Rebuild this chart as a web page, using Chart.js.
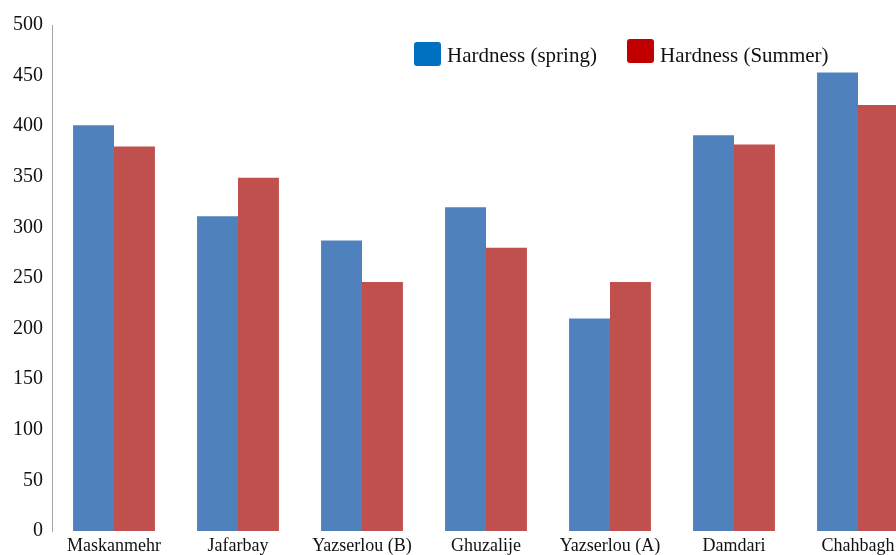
<!DOCTYPE html>
<html>
<head>
<meta charset="utf-8">
<script src="https://cdn.jsdelivr.net/npm/chart.js@4.4.1/dist/chart.umd.min.js"></script>
<style>
  html, body { margin: 0; padding: 0; background: #fff; overflow: hidden; }
  #wrap { position: relative; width: 930px; height: 555px; }
</style>
</head>
<body>
<div id="wrap"><canvas id="c" width="930" height="555"></canvas></div>
<script>
// Sampling sites
const sites = ['Maskanmehr', 'Jafarbay', 'Yazserlou (B)', 'Ghuzalije', 'Yazserlou (A)', 'Damdari', 'Chahbagh'];
// Water hardness per season
const hardnessSpring = [401, 311, 287, 320, 210, 391, 453];
const hardnessSummer = [380, 349, 246, 280, 246, 382, 421];
// Value axis ticks
const yTicks = [0, 50, 100, 150, 200, 250, 300, 350, 400, 450, 500];

const serif = '"Liberation Serif", "Times New Roman", serif';

// Legend drawn inside the plot with its own swatch colours
const floatingLegend = {
  id: 'floatingLegend',
  afterDraw(chart) {
    const ctx = chart.ctx;
    const items = [
      { x: 414, text: chart.data.datasets[0].label, color: '#0070C0', top: 42 },
      { x: 627, text: chart.data.datasets[1].label, color: '#C00000', top: 39 }
    ];
    ctx.save();
    items.forEach(it => {
      ctx.fillStyle = it.color;
      ctx.beginPath();
      ctx.roundRect(it.x, it.top, 27, 24, 3);
      ctx.fill();
      ctx.fillStyle = '#111';
      ctx.font = '21px ' + serif;
      ctx.textBaseline = 'middle';
      ctx.fillText(it.text, it.x + 33, 56);
    });
    ctx.restore();
  }
};

new Chart(document.getElementById('c'), {
  type: 'bar',
  data: {
    labels: sites,
    datasets: [
      { label: 'Hardness (spring)', data: hardnessSpring, backgroundColor: '#4F81BD' },
      { label: 'Hardness (Summer)', data: hardnessSummer, backgroundColor: '#C0504D' }
    ]
  },
  options: {
    responsive: false,
    animation: false,
    layout: { padding: { top: 25, right: 10, left: 0, bottom: 0 } },
    plugins: { legend: { display: false }, tooltip: { enabled: false } },
    datasets: { bar: { barPercentage: 1.0, categoryPercentage: 0.66 } },
    scales: {
      x: {
        grid: { display: false, drawTicks: false },
        border: { display: false },
        ticks: { color: '#111', font: { family: serif, size: 18 }, padding: 4, maxRotation: 0, autoSkip: false },
        afterFit(s) { s.height = 24; }
      },
      y: {
        min: 0, max: 500,
        afterBuildTicks(s) { s.ticks = yTicks.map(v => ({ value: v })); },
        grid: { display: false, drawTicks: false },
        border: { display: true, color: '#a6a6a6', width: 1 },
        ticks: { color: '#111', font: { family: serif, size: 20 }, padding: 9 },
        afterFit(s) { s.width = 52; }
      }
    }
  },
  plugins: [floatingLegend]
});
</script>
</body>
</html>
